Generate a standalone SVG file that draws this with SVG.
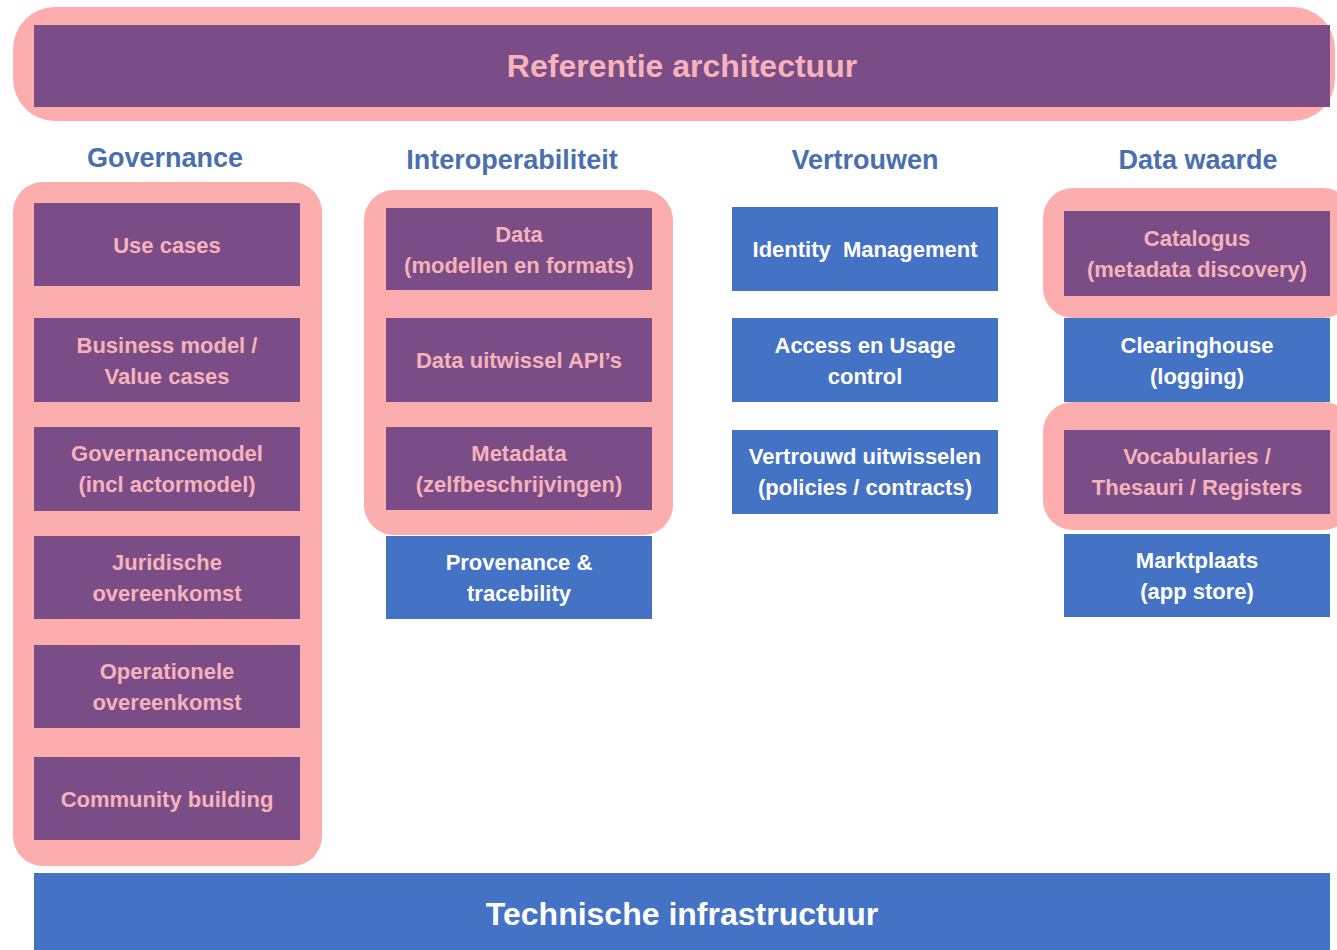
<svg xmlns="http://www.w3.org/2000/svg" width="1337" height="950" viewBox="0 0 1337 950">
<style>
.grp{fill:#fcadae;}
.pb{fill:#7b4d87;}
.bb{fill:#4472c4;}
.t{font-family:"Liberation Sans",Arial,sans-serif;font-weight:bold;font-size:22px;text-anchor:middle;dominant-baseline:central;white-space:pre;}
.tp{fill:#f6b3bb;}
.tw{fill:#ffffff;}
.h{font-family:"Liberation Sans",Arial,sans-serif;font-weight:bold;font-size:27px;text-anchor:middle;dominant-baseline:central;fill:#4a6fae;}
.big{font-family:"Liberation Sans",Arial,sans-serif;font-weight:bold;font-size:32px;text-anchor:middle;dominant-baseline:central;}
</style>
<rect width="1337" height="950" fill="#ffffff"/>

<g id="referentie">
<rect class="grp" x="13" y="7" width="1322" height="114" rx="42"/>
<rect class="pb" x="34" y="25" width="1296" height="82"/>
<text class="big tp" x="682" y="66">Referentie architectuur</text>
</g>

<g id="headers">
<text class="h" x="165" y="158">Governance</text>
<text class="h" x="512" y="160">Interoperabiliteit</text>
<text class="h" x="865" y="160">Vertrouwen</text>
<text class="h" x="1198" y="160">Data waarde</text>
</g>

<g id="governance">
<rect class="grp" x="13" y="182" width="309" height="684" rx="30"/>
<g id="usecases"><rect class="pb" x="34" y="203" width="266" height="83"/><text class="t tp" x="167" y="245">Use cases</text></g>
<g id="business"><rect class="pb" x="34" y="318" width="266" height="84"/><text class="t tp" x="167" y="345">Business model /</text><text class="t tp" x="167" y="376">Value cases</text></g>
<g id="govmodel"><rect class="pb" x="34" y="427" width="266" height="84"/><text class="t tp" x="167" y="453">Governancemodel</text><text class="t tp" x="167" y="484">(incl actormodel)</text></g>
<g id="juridische"><rect class="pb" x="34" y="536" width="266" height="83"/><text class="t tp" x="167" y="562">Juridische</text><text class="t tp" x="167" y="593">overeenkomst</text></g>
<g id="operationele"><rect class="pb" x="34" y="645" width="266" height="83"/><text class="t tp" x="167" y="671">Operationele</text><text class="t tp" x="167" y="702">overeenkomst</text></g>
<g id="community"><rect class="pb" x="34" y="757" width="266" height="83"/><text class="t tp" x="167" y="799">Community building</text></g>
</g>

<g id="interoperabiliteit">
<rect class="grp" x="364" y="190" width="309" height="345" rx="30"/>
<g id="data"><rect class="pb" x="386" y="208" width="266" height="82"/><text class="t tp" x="519" y="234">Data</text><text class="t tp" x="519" y="265">(modellen en formats)</text></g>
<g id="api"><rect class="pb" x="386" y="318" width="266" height="84"/><text class="t tp" x="519" y="360">Data uitwissel API’s</text></g>
<g id="metadata"><rect class="pb" x="386" y="427" width="266" height="83"/><text class="t tp" x="519" y="453">Metadata</text><text class="t tp" x="519" y="484">(zelfbeschrijvingen)</text></g>
<g id="provenance"><rect class="bb" x="386" y="536" width="266" height="83"/><text class="t tw" x="519" y="562">Provenance &amp;</text><text class="t tw" x="519" y="593">tracebility</text></g>
</g>

<g id="vertrouwen">
<g id="identity"><rect class="bb" x="732" y="207" width="266" height="84"/><text class="t tw" x="865" y="249">Identity  Management</text></g>
<g id="access"><rect class="bb" x="732" y="318" width="266" height="84"/><text class="t tw" x="865" y="345">Access en Usage</text><text class="t tw" x="865" y="376">control</text></g>
<g id="vertrouwd"><rect class="bb" x="732" y="430" width="266" height="84"/><text class="t tw" x="865" y="456">Vertrouwd uitwisselen</text><text class="t tw" x="865" y="487">(policies / contracts)</text></g>
</g>

<g id="datawaarde">
<rect class="grp" x="1043" y="188" width="310" height="130" rx="30"/>
<g id="catalogus"><rect class="pb" x="1064" y="211" width="266" height="85"/><text class="t tp" x="1197" y="238">Catalogus</text><text class="t tp" x="1197" y="269">(metadata discovery)</text></g>
<g id="clearinghouse"><rect class="bb" x="1064" y="318" width="266" height="84"/><text class="t tw" x="1197" y="345">Clearinghouse</text><text class="t tw" x="1197" y="376">(logging)</text></g>
<rect class="grp" x="1043" y="402" width="310" height="128" rx="30"/>
<g id="vocab"><rect class="pb" x="1064" y="430" width="266" height="84"/><text class="t tp" x="1197" y="456">Vocabularies /</text><text class="t tp" x="1197" y="487">Thesauri / Registers</text></g>
<g id="marktplaats"><rect class="bb" x="1064" y="534" width="266" height="83"/><text class="t tw" x="1197" y="560">Marktplaats</text><text class="t tw" x="1197" y="591">(app store)</text></g>
</g>

<g id="technische">
<rect class="bb" x="34" y="873" width="1296" height="77"/>
<text class="big tw" x="682" y="914">Technische infrastructuur</text>
</g>

<g id="connectors"></g>
</svg>
